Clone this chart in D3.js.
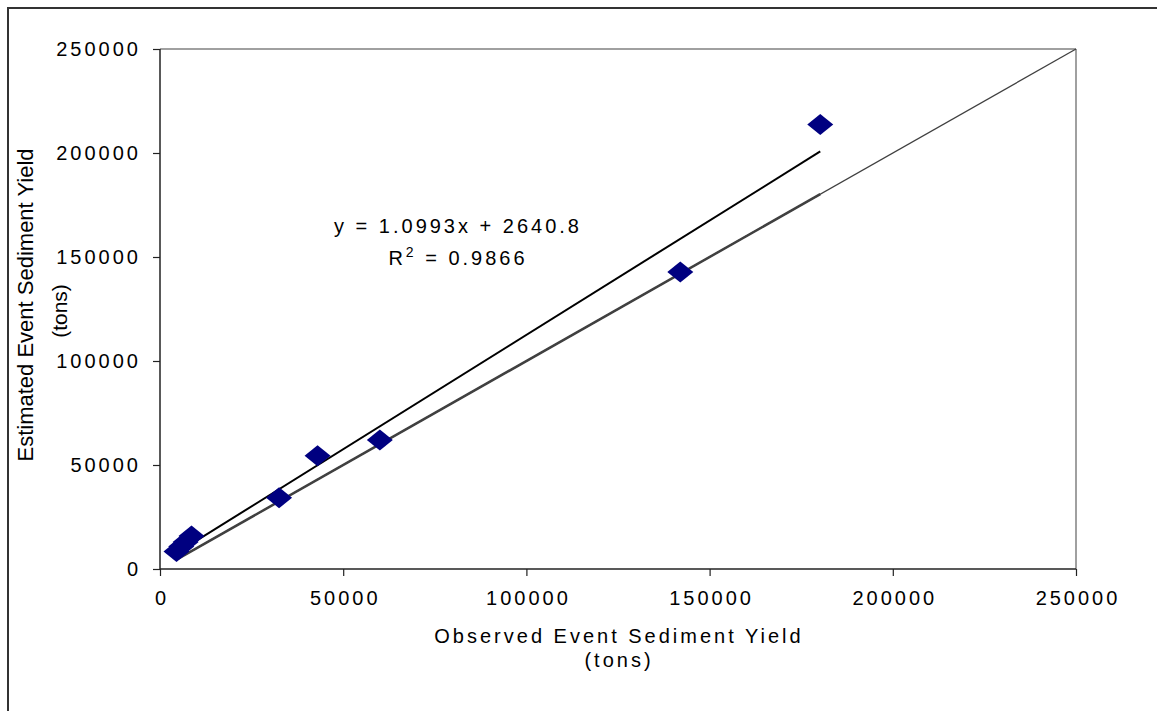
<!DOCTYPE html>
<html>
<head>
<meta charset="utf-8">
<script src="https://cdn.jsdelivr.net/npm/d3@7"></script>
<style>
  html, body { margin: 0; padding: 0; background: #fff; }
  svg { display: block; }
  text { font-family: Arial, "Liberation Sans", sans-serif; fill: #000; }
</style>
</head>
<body>
<svg id="chart" width="1157" height="711"></svg>
<script>
// ---- data ----
const observed  = [4500, 5800, 7000, 8600, 32500, 43000, 60000, 142000, 180200];
const estimated = [8400, 10800, 13000, 15900, 34300, 54500, 62000, 142800, 213700];
const trendSlope = 1.0993;
const trendIntercept = 2640.8;
const tickValues = [0, 50000, 100000, 150000, 200000, 250000];
const axisMax = 250000;
const equationText = "y = 1.0993x + 2640.8";
const r2Value = "0.9866";
const xTitle = ["Observed Event Sediment Yield", "(tons)"];
const yTitle = ["Estimated Event Sediment Yield", "(tons)"];

// ---- layout ----
const svg = d3.select("#chart");
const L = 160, R = 1076, T = 49, B = 569;
const x = d3.scaleLinear().domain([0, axisMax]).range([L, R]);
const y = d3.scaleLinear().domain([0, axisMax]).range([B, T]);

// outer frame
svg.append("rect").attr("x", 8).attr("y", 8).attr("width", 1170).attr("height", 720)
  .attr("fill", "none").attr("stroke", "#333").attr("stroke-width", 2);

// plot border (top/right gray)
svg.append("line").attr("x1", L).attr("x2", R).attr("y1", T).attr("y2", T)
  .attr("stroke", "#808080").attr("stroke-width", 1.5);
svg.append("line").attr("x1", R).attr("x2", R).attr("y1", T).attr("y2", B)
  .attr("stroke", "#808080").attr("stroke-width", 1.5);

// axes
const xAxis = d3.axisBottom(x).tickValues(tickValues).tickSize(7).tickPadding(15).tickFormat(d3.format("d"));
const yAxis = d3.axisLeft(y).tickValues(tickValues).tickSize(7).tickPadding(15).tickFormat(d3.format("d"));

const gx = svg.append("g").attr("transform", `translate(0,${B})`).call(xAxis);
const gy = svg.append("g").attr("transform", `translate(${L},0)`).call(yAxis);
[gx, gy].forEach(g => {
  g.select(".domain").attr("stroke", "#222").attr("stroke-width", 1.5);
  g.selectAll(".tick line").attr("stroke", "#222").attr("stroke-width", 1.2);
  g.selectAll(".tick text")
    .style("font-family", "Arial, 'Liberation Sans', sans-serif")
    .style("font-size", "20px").style("letter-spacing", "3px").attr("fill", "#000");
});
gx.select(".domain").attr("d", `M${L},0H${R}`);
gy.select(".domain").attr("d", `M0,${B}V${T}`);
gx.selectAll(".tick text").attr("dy", "0.71em").attr("dx", "1.5px");
gy.selectAll(".tick text").attr("dx", "3px");

// 1:1 line (thin full extent + thicker over data range)
const xMin = d3.min(observed), xMax = d3.max(observed);
const lineGen = d3.line().x(d => x(d[0])).y(d => y(d[1]));
svg.append("path").datum([[xMin, xMin], [axisMax, axisMax]]).attr("d", lineGen)
  .attr("fill", "none").attr("stroke", "#404040").attr("stroke-width", 1.3);
svg.append("path").datum([[xMin, xMin], [xMax, xMax]]).attr("d", lineGen)
  .attr("fill", "none").attr("stroke", "#404040").attr("stroke-width", 2.5);

// trend line
svg.append("path")
  .datum([[xMin, trendSlope * xMin + trendIntercept], [xMax, trendSlope * xMax + trendIntercept]])
  .attr("d", lineGen).attr("fill", "none").attr("stroke", "#000").attr("stroke-width", 2);

// markers (diamonds)
const pts = observed.map((v, i) => [v, estimated[i]]);
svg.append("g").selectAll("path").data(pts).join("path")
  .attr("d", d => {
    const cx = x(d[0]), cy = y(d[1]);
    return `M${cx},${cy - 10.5}L${cx + 13},${cy}L${cx},${cy + 10.5}L${cx - 13},${cy}Z`;
  })
  .attr("fill", "#000080");

// equation
svg.append("text").attr("x", 458).attr("y", 233).attr("text-anchor", "middle")
  .style("font-size", "20px").style("letter-spacing", "3px").text(equationText);
const r2 = svg.append("text").attr("x", 458).attr("y", 265).attr("text-anchor", "middle")
  .style("font-size", "20px").style("letter-spacing", "3px");
r2.append("tspan").text("R");
r2.append("tspan").attr("dy", -8).style("font-size", "14px").text("2");
r2.append("tspan").attr("dy", 8).text(" = " + r2Value);

// axis titles
svg.append("text").attr("x", 619).attr("y", 643).attr("text-anchor", "middle")
  .style("font-size", "20px").style("letter-spacing", "3px").text(xTitle[0]);
svg.append("text").attr("x", 619).attr("y", 667).attr("text-anchor", "middle")
  .style("font-size", "20px").style("letter-spacing", "3px").text(xTitle[1]);

svg.append("text").attr("transform", "translate(33,305) rotate(-90)").attr("text-anchor", "middle")
  .style("font-size", "22px").text(yTitle[0]);
svg.append("text").attr("transform", "translate(67,311) rotate(-90)").attr("text-anchor", "middle")
  .style("font-size", "21px").text(yTitle[1]);
</script>
</body>
</html>
